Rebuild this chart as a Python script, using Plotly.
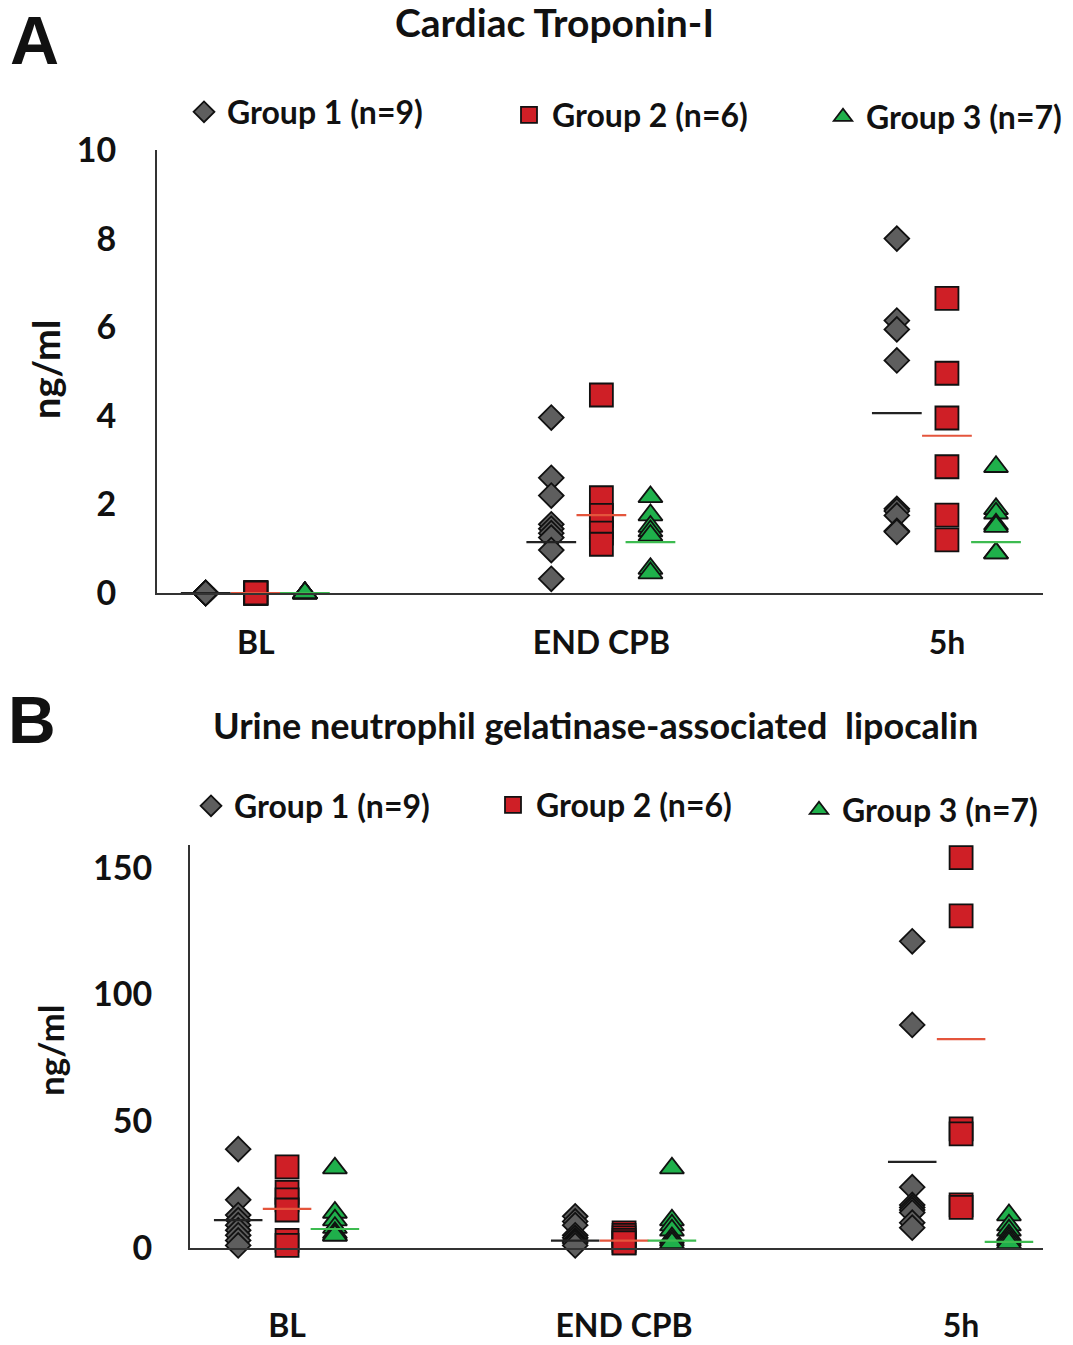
import plotly.graph_objects as go

W, H = 1073, 1345

categories = ["BL", "END CPB", "5h"]
group_names = ["Group 1 (n=9)", "Group 2 (n=6)", "Group 3 (n=7)"]

# Panel A: Cardiac Troponin-I (ng/ml), per category [BL, END CPB, 5h]
tni_group1 = [
    [0, 0, 0, 0, 0, 0, 0, 0, 0],
    [3.96, 2.6, 2.2, 1.55, 1.45, 1.35, 1.25, 0.97, 0.32],
    [8.0, 6.15, 5.95, 5.25, 1.9, 1.85, 1.75, 1.4, 1.38],
]
tni_group2 = [
    [0, 0, 0, 0, 0, 0],
    [4.47, 2.15, 1.75, 1.5, 1.35, 1.1],
    [6.65, 4.96, 3.95, 2.85, 1.76, 1.2],
]
tni_group3 = [
    [0, 0, 0, 0, 0, 0, 0],
    [2.17, 1.76, 1.5, 1.4, 1.3, 0.55, 0.45],
    [2.85, 1.9, 1.8, 1.55, 1.5, 0.9, 0.9],
]
tni_center_g1 = [0, 1.15, 4.06]
tni_center_g2 = [0, 1.76, 3.55]
tni_center_g3 = [0, 1.15, 1.15]
tni_ticks = [0, 2, 4, 6, 8, 10]

# Panel B: Urine NGAL (ng/ml)
ngal_group1 = [
    [39, 19, 13, 11, 9, 7, 5, 3, 1],
    [12.5, 10.5, 9, 5, 4, 3, 2.5, 2, 1],
    [121, 88, 24, 17, 16, 15, 14, 10, 8],
]
ngal_group2 = [
    [32, 22, 19, 15, 3, 1],
    [6, 5, 4, 3, 2, 2],
    [154, 131, 47, 45, 17, 16],
]
ngal_group3 = [
    [31.5, 14, 11, 8, 6, 5, 5],
    [31.5, 11, 9, 7, 4, 3, 2],
    [13, 9, 7, 5, 4, 3, 2],
]
ngal_center_g1 = [11, 2.9, 34]
ngal_center_g2 = [15.4, 2.9, 82.4]
ngal_center_g3 = [7.5, 2.9, 2.4]
ngal_ticks = [0, 50, 100, 150]

# styling
offsets = [-0.145, 0.0, 0.142]
symbols = ["diamond", "square", "triangle-up"]
sizes = [19, 23, 21]
fills = ["#5e5e5e", "#cf1f26", "#1fb04b"]
line_cols = ["#222222", "#e4553c", "#3dbb50"]
half_w = 0.072
FONT = "Lato"

# legend symbol centres (px) for each panel
legA_pos = [(203, 112), (528, 115), (842, 117)]
legB_pos = [(210, 806), (512, 805), (818, 810)]


def px(x, y):
    return x / W, 1 - y / H


fig = go.Figure()


def add_panel(series_list, centers_list, xa, ya, legend_ids):
    for gi, series in enumerate(series_list):
        xs, ys = [], []
        for ci, vals in enumerate(series):
            xs += [ci + offsets[gi]] * len(vals)
            ys += vals
        fig.add_trace(go.Scatter(
            x=xs, y=ys, mode="markers", xaxis=xa, yaxis=ya,
            name=group_names[gi], legend=legend_ids[gi], cliponaxis=False,
            marker=dict(symbol=symbols[gi], size=sizes[gi], color=fills[gi],
                        line=dict(color="#111111", width=1.8)),
        ))
    for gi, centers in enumerate(centers_list):
        lx, ly = [], []
        for ci, c in enumerate(centers):
            lx += [ci + offsets[gi] - half_w, ci + offsets[gi] + half_w, None]
            ly += [c, c, None]
        fig.add_trace(go.Scatter(
            x=lx, y=ly, mode="lines", xaxis=xa, yaxis=ya, showlegend=False,
            cliponaxis=False, line=dict(color=line_cols[gi], width=2.2),
            hoverinfo="skip",
        ))


add_panel([tni_group1, tni_group2, tni_group3],
          [tni_center_g1, tni_center_g2, tni_center_g3], "x", "y",
          ["legend", "legend2", "legend3"])
add_panel([ngal_group1, ngal_group2, ngal_group3],
          [ngal_center_g1, ngal_center_g2, ngal_center_g3], "x2", "y2",
          ["legend4", "legend5", "legend6"])

ytickfont = dict(family=FONT, size=34, color="#111111", weight="bold")
xtickfont = dict(family=FONT, size=32, color="#111111", weight="bold")
axis_common = dict(showline=True, linecolor="#333333", linewidth=2, showgrid=False,
                   zeroline=False, ticks="outside", tickcolor="rgba(0,0,0,0)",
                   fixedrange=True)

legend_font = dict(family=FONT, size=32, color="#111111", weight="bold")
legends = {}
for i, (cx, cy) in enumerate(legA_pos + legB_pos):
    key = "legend" if i == 0 else "legend%d" % (i + 1)
    lx, ly = px(cx - 22, cy)
    legends[key] = dict(x=lx, y=ly, xanchor="left", yanchor="middle", itemwidth=36,
                        font=legend_font, bgcolor="rgba(0,0,0,0)", borderwidth=0)

fig.update_layout(
    width=W, height=H, margin=dict(l=0, r=0, t=0, b=0, autoexpand=False),
    paper_bgcolor="white", plot_bgcolor="white", showlegend=True,
    xaxis=dict(domain=[157 / W, 1043 / W], range=[-0.286, 2.278], tickvals=[0, 1, 2],
               ticktext=categories, ticklen=21, anchor="y", tickfont=xtickfont,
               **axis_common),
    yaxis=dict(domain=[1 - 593 / H, 1 - 150 / H], range=[0, 10], tickvals=tni_ticks,
               ticklen=32, anchor="x", tickfont=ytickfont, **axis_common),
    xaxis2=dict(domain=[190 / W, 1043 / W], range=[-0.288, 2.243], tickvals=[0, 1, 2],
                ticktext=categories, ticklen=49, anchor="y2", tickfont=xtickfont,
                **axis_common),
    yaxis2=dict(domain=[1 - 1248 / H, 1 - 845 / H], range=[0, 159], tickvals=ngal_ticks,
                ticklen=29, anchor="x2", tickfont=ytickfont, **axis_common),
    **legends,
)

ann = []
def add_text(text, x, y, size, family=FONT, angle=0):
    ax, ay = px(x, y)
    ann.append(dict(text=text, x=ax, y=ay, xref="paper", yref="paper", showarrow=False,
                    xanchor="center", yanchor="middle", textangle=angle,
                    font=dict(family=family, size=size, color="#111111", weight="bold")))

add_text("A", 35, 40, 68, family="Liberation Sans")
add_text("B", 32, 720, 66, family="Liberation Sans")
add_text("Cardiac Troponin-I", 554, 22, 39)
add_text("Urine neutrophil gelatinase-associated  lipocalin", 595, 725, 36)
add_text("ng/ml", 45, 370, 38, angle=-90)
add_text("ng/ml", 50, 1050, 35, angle=-90)
fig.update_layout(annotations=ann)

fig.write_html("out.html", config={"displayModeBar": False},
               post_script="document.body.style.margin='0px';")
